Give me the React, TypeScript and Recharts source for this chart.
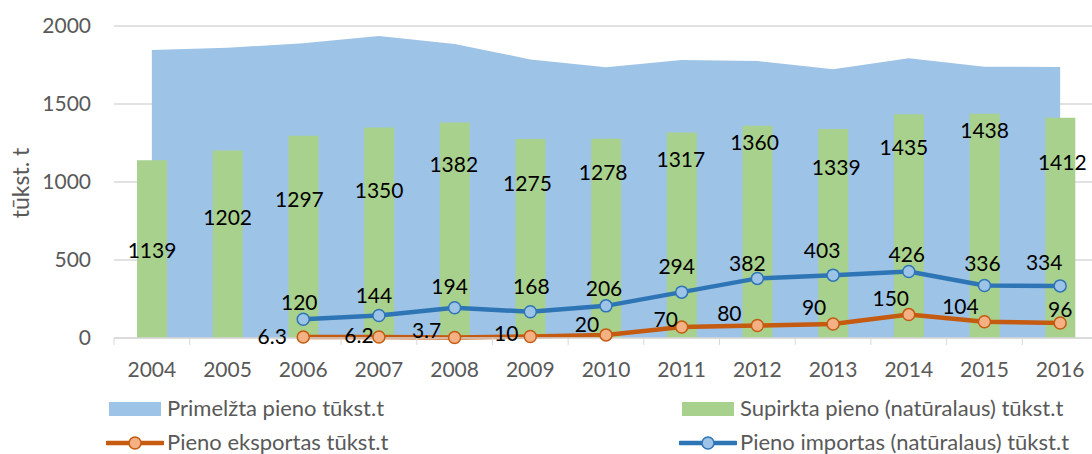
import React from 'react';
import { ComposedChart, Area, Bar, Line, XAxis, YAxis, CartesianGrid, LabelList, Legend } from 'recharts';

const years = ['2004', '2005', '2006', '2007', '2008', '2009', '2010', '2011', '2012', '2013', '2014', '2015', '2016'];
const primelzta = [1846, 1861, 1889, 1936, 1885, 1786, 1735, 1782, 1776, 1722, 1793, 1739, 1737];
const supirkta = [1139, 1202, 1297, 1350, 1382, 1275, 1278, 1317, 1360, 1339, 1435, 1438, 1412];
const eksportas: (number | null)[] = [null, null, 6.3, 6.2, 3.7, 10, 20, 70, 80, 90, 150, 104, 96];
const importas: (number | null)[] = [null, null, 120, 144, 194, 168, 206, 294, 382, 403, 426, 336, 334];
const yTicks = [0, 500, 1000, 1500, 2000];

const seriesNames = {
  primelzta: 'Primelžta pieno tūkst.t',
  supirkta: 'Supirkta pieno (natūralaus) tūkst.t',
  eksportas: 'Pieno eksportas tūkst.t',
  importas: 'Pieno importas (natūralaus) tūkst.t',
};
const yTitle = 'tūkst. t';

// label placement offsets (style only)
const barLabelDx = [0, 0, -4, 0, -1, -3, -3, -1, -3, 3, -5, 0, 2];
const barLabelDy = [90, 67, 64, 63, 42, 45, 34, 27, 17, 39, 34, 17, 45];
const impLabelDx = [0, 0, -4, -5, -5, 1, -2, -5, -10, -11, -2, -2, -16];
const impLabelDy = [0, 0, -17, -20, -21, -25, -17, -25, -15, -24, -17, -22, -23];
const expLabelDx = [0, 0, -31, -20, -28, -24, -19, -16, -28, -19, -18, -24, 0];
const expLabelDy = [0, 0, 0, -1, -7, -3, -10, -7, -12, -16, -16, -15, -13];

const data = years.map((y, i) => ({
  year: y,
  primelzta: primelzta[i],
  supirkta: supirkta[i],
  eksportas: eksportas[i],
  importas: importas[i],
}));

const FONT = 'Lato, "Open Sans", sans-serif';
const C_AREA = '#9DC3E6';
const C_BAR = '#A9D18E';
const C_EXP = '#C55A11';
const C_EXP_FILL = '#F4B183';
const C_IMP = '#2E75B6';
const C_IMP_FILL = '#9DC3E6';
const FS = 21;

const BarLabel = (props: any) => {
  const { x, y, width, value, index } = props;
  return (
    <text x={x + width / 2 + barLabelDx[index]} y={y + barLabelDy[index]} dy="0.35em" textAnchor="middle" fontSize={FS} fontFamily={FONT} fill="#000">
      {value}
    </text>
  );
};

const makePointLabel = (dxs: number[], dys: number[]) => (props: any) => {
  const { x, y, value, index } = props;
  if (value === null || value === undefined) return null;
  return (
    <text x={x + dxs[index]} y={y + dys[index]} dy="0.35em" textAnchor="middle" fontSize={FS} fontFamily={FONT} fill="#000">
      {value}
    </text>
  );
};

const XTick = (props: any) => {
  const { x, y, payload, index } = props;
  const off = payload.offset || 0;
  return (
    <g>
      <line x1={x - off} x2={x - off} y1={y} y2={y + 7} stroke="#D9D9D9" strokeWidth={1} />
      {index === years.length - 1 && <line x1={x + off} x2={x + off} y1={y} y2={y + 7} stroke="#D9D9D9" strokeWidth={1} />}
      <text x={x} y={y + 39} textAnchor="middle" fontSize={FS} fontFamily={FONT} fill="#595959">
        {payload.value}
      </text>
    </g>
  );
};

const LegendContent = () => {
  const text: React.CSSProperties = { position: 'absolute', fontSize: 22, fontFamily: FONT, color: '#595959', lineHeight: '22px', whiteSpace: 'nowrap' };
  const lineIcon = (left: number, top: number, stroke: string, fill: string) => (
    <svg style={{ position: 'absolute', left, top }} width={58} height={16}>
      <line x1={1} x2={57} y1={8} y2={8} stroke={stroke} strokeWidth={4.5} strokeLinecap="round" />
      <circle cx={29} cy={8} r={6} fill={fill} stroke={stroke} strokeWidth={1.5} />
    </svg>
  );
  return (
    <div style={{ position: 'relative', width: 1092, height: 62 }}>
      <div style={{ position: 'absolute', left: 109, top: 10, width: 52, height: 14, background: C_AREA }} />
      <div style={{ ...text, left: 167, top: 5 }}>{seriesNames.primelzta}</div>
      <div style={{ position: 'absolute', left: 682, top: 10, width: 52, height: 14, background: C_BAR }} />
      <div style={{ ...text, left: 740, top: 5 }}>{seriesNames.supirkta}</div>
      {lineIcon(106, 43, C_EXP, C_EXP_FILL)}
      <div style={{ ...text, left: 167, top: 39 }}>{seriesNames.eksportas}</div>
      {lineIcon(679, 43, C_IMP, C_IMP_FILL)}
      <div style={{ ...text, left: 740, top: 39 }}>{seriesNames.importas}</div>
    </div>
  );
};

export default function App() {
  return (
    <div style={{ position: 'absolute', left: 0, top: 0, width: 1092, height: 454, overflow: 'hidden', background: '#fff' }}>
      <ComposedChart width={1110} height={454} data={data} margin={{ top: 26, right: 12, bottom: 24, left: 0 }}>
        <CartesianGrid vertical={false} stroke="#D9D9D9" strokeWidth={1.3} />
        <XAxis dataKey="year" tick={<XTick />} tickLine={false} axisLine={{ stroke: '#D9D9D9', strokeWidth: 1.3 }} tickSize={0} tickMargin={0} height={30} interval={0} />
        <YAxis domain={[0, 2000]} ticks={yTicks} width={114} axisLine={false} tickLine={false} tickSize={0} tickMargin={23}
          tick={{ fontSize: FS, fontFamily: FONT, fill: '#595959' }} />
        <Legend verticalAlign="bottom" content={<LegendContent />} wrapperStyle={{ position: 'absolute', top: 392, left: 0, width: 1092, height: 62 }} />
        <Area type="linear" dataKey="primelzta" name={seriesNames.primelzta} fill={C_AREA} fillOpacity={1} stroke="none" isAnimationActive={false} />
        <Bar dataKey="supirkta" name={seriesNames.supirkta} fill={C_BAR} barSize={30} isAnimationActive={false}>
          <LabelList dataKey="supirkta" content={<BarLabel />} />
        </Bar>
        <Line type="linear" dataKey="importas" name={seriesNames.importas} stroke={C_IMP} strokeWidth={4.5}
          dot={{ r: 6, fill: C_IMP_FILL, stroke: C_IMP, strokeWidth: 1.5 }} isAnimationActive={false}>
          <LabelList dataKey="importas" content={makePointLabel(impLabelDx, impLabelDy)} />
        </Line>
        <Line type="linear" dataKey="eksportas" name={seriesNames.eksportas} stroke={C_EXP} strokeWidth={4.5}
          dot={{ r: 6, fill: C_EXP_FILL, stroke: C_EXP, strokeWidth: 1.5 }} isAnimationActive={false}>
          <LabelList dataKey="eksportas" content={makePointLabel(expLabelDx, expLabelDy)} />
        </Line>
      </ComposedChart>
      <div style={{ position: 'absolute', left: 20, top: 183, transform: 'translate(-50%, -50%) rotate(-90deg)', fontSize: 23, fontFamily: FONT, color: '#595959', whiteSpace: 'nowrap', lineHeight: '24px' }}>
        {yTitle}
      </div>
    </div>
  );
}
